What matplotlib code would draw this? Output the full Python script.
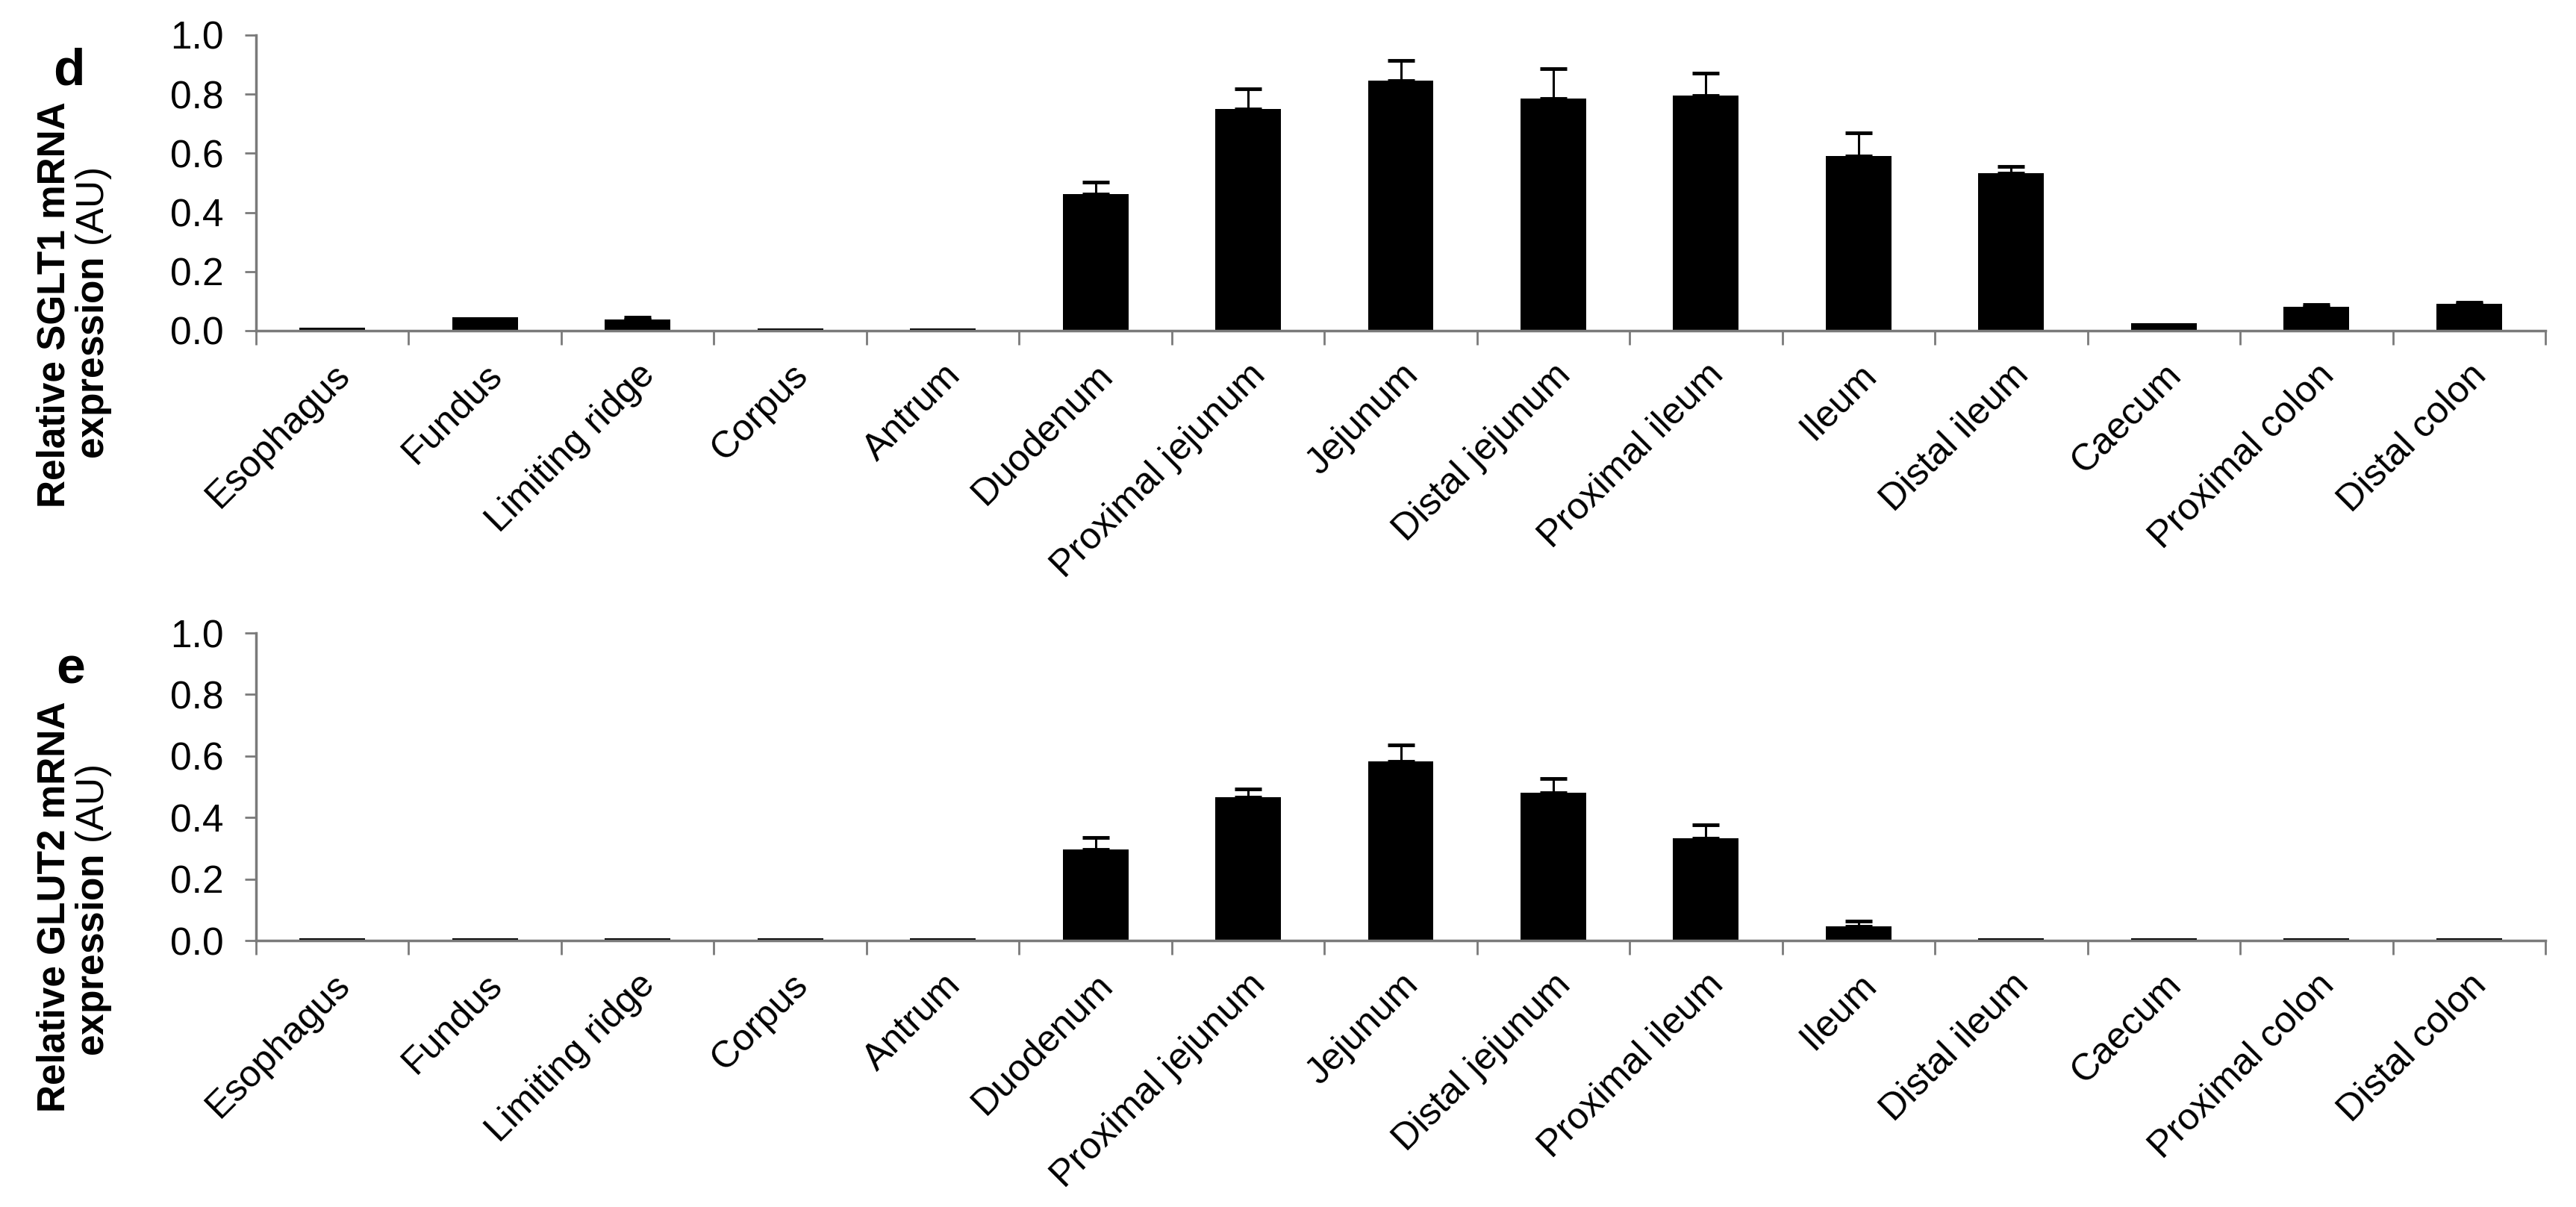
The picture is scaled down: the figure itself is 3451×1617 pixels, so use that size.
import matplotlib
matplotlib.use("Agg")
import matplotlib.pyplot as plt
import numpy as np

plt.rcParams['font.family'] = ['Liberation Sans', 'DejaVu Sans']
plt.rcParams['mathtext.fontset'] = 'custom'
plt.rcParams['mathtext.rm'] = 'Liberation Sans'
plt.rcParams['mathtext.bf'] = 'Liberation Sans:bold'

# tissues along the gut
categories = ['Esophagus', 'Fundus', 'Limiting ridge', 'Corpus', 'Antrum',
              'Duodenum', 'Proximal jejunum', 'Jejunum', 'Distal jejunum',
              'Proximal ileum', 'Ileum', 'Distal ileum', 'Caecum',
              'Proximal colon', 'Distal colon']

# panel d: SGLT1
sglt1 = [0.010, 0.045, 0.037, 0.008, 0.008, 0.462, 0.751, 0.847, 0.786,
         0.795, 0.592, 0.534, 0.026, 0.081, 0.090]
sglt1_err = [0, 0, 0.008, 0, 0, 0.041, 0.066, 0.066, 0.100,
             0.076, 0.078, 0.022, 0, 0.007, 0.007]

# panel e: GLUT2
glut2 = [0.008, 0.008, 0.008, 0.008, 0.008, 0.297, 0.465, 0.583, 0.481,
         0.332, 0.046, 0.008, 0.008, 0.008, 0.008]
glut2_err = [0, 0, 0, 0, 0, 0.038, 0.028, 0.054, 0.046,
             0.044, 0.016, 0, 0, 0, 0]

W, H = 3451, 1617
fig = plt.figure(figsize=(W / 100, H / 100), dpi=100)

AXIS_GRAY = '#7a7a7a'
FS = 37      # y tick labels and axis titles
FS_X = 36    # category labels


def px_box(left, top, right, bottom):
    return [left / W, 1 - bottom / H, (right - left) / W, (bottom - top) / H]


def draw_panel(ax, vals, errs):
    x = np.arange(len(categories))
    ax.bar(x, vals, width=0.43, color='black', linewidth=0, zorder=2)
    errs = np.array(errs)
    m = errs > 0
    ax.errorbar(x[m], np.array(vals)[m], yerr=[np.zeros(m.sum()), errs[m]],
                fmt='none', ecolor='black', elinewidth=2.2, capsize=13,
                capthick=3.5, zorder=3)
    ax.set_xlim(-0.5, len(categories) - 0.5)
    ax.set_ylim(0, 1.0)
    ax.set_yticks(np.arange(0, 1.01, 0.2))
    ax.set_yticklabels(['%.1f' % v for v in np.arange(0, 1.01, 0.2)])
    ax.set_xticks(x)
    ax.set_xticklabels(categories, rotation=45, ha='right',
                       rotation_mode='anchor')
    # ticks sit between the bars, labels under the bars
    ax.set_xticks(np.arange(-0.5, len(categories), 1), minor=True)
    ax.tick_params(axis='x', which='major', length=0, pad=26, labelsize=FS_X)
    ax.tick_params(axis='x', which='minor', length=14, width=2,
                   color=AXIS_GRAY, direction='out')
    ax.tick_params(axis='y', length=11, width=2, color=AXIS_GRAY,
                   direction='out', pad=20, labelsize=FS)
    for s in ['top', 'right']:
        ax.spines[s].set_visible(False)
    for s in ['left', 'bottom']:
        ax.spines[s].set_color(AXIS_GRAY)
        ax.spines[s].set_linewidth(2.5)


ax1 = fig.add_axes(px_box(343, 47, 3410, 443))
draw_panel(ax1, sglt1, sglt1_err)
ax2 = fig.add_axes(px_box(343, 848, 3410, 1260))
draw_panel(ax2, glut2, glut2_err)

# y labels and panel letters
fig.text(73 / W, 1 - 408 / H, 'Relative SGLT1 mRNA', rotation=90,
         ha='center', va='center', fontsize=FS, fontweight='bold')
fig.text(126 / W, 1 - 420 / H, r'$\mathbf{expression}$ (AU)', rotation=90,
         ha='center', va='center', fontsize=FS)
fig.text(92 / W, 1 - 113 / H, 'd', ha='center', va='baseline',
         fontsize=50, fontweight='bold')

fig.text(73 / W, 1 - 1215 / H, 'Relative GLUT2 mRNA', rotation=90,
         ha='center', va='center', fontsize=FS, fontweight='bold')
fig.text(126 / W, 1 - 1220 / H, r'$\mathbf{expression}$ (AU)', rotation=90,
         ha='center', va='center', fontsize=FS)
fig.text(95 / W, 1 - 915 / H, 'e', ha='center', va='baseline',
         fontsize=50, fontweight='bold')

fig.savefig('out.png', dpi=100)
